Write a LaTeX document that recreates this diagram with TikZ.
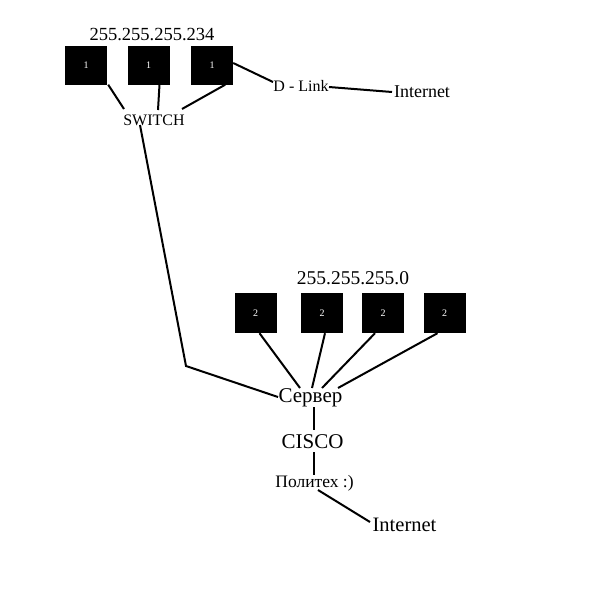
\documentclass[tikz,border=0pt]{standalone}
\usepackage{fontspec}
\setmainfont{Liberation Serif}
\usetikzlibrary{calc}
\tikzset{
  blk/.style={fill=black, minimum width=42pt, minimum height=39pt, inner sep=0pt, text=white, font=\fontsize{10}{12}\selectfont},
  lbl/.style={inner sep=1pt, text=black},
  conn/.style={draw=black, line width=2pt},
}
\begin{document}
\begin{tikzpicture}[x=1pt, y=-1pt]
\useasboundingbox[fill=white] (0,0) rectangle (600,600);
% top group
\node[lbl, font=\fontsize{18.5}{20}\selectfont] (ip1) at (152,35) {255.255.255.234};
\node[blk] (a1) at (86,65) {1};
\node[blk] (a2) at (148.5,65) {1};
\node[blk] (a3) at (212,65) {1};
\node[lbl, font=\fontsize{16}{18}\selectfont] (sw) at (154,120) {SWITCH};
\node[lbl, font=\fontsize{16}{18}\selectfont] (dl) at (301,86) {D - Link};
\node[lbl, font=\fontsize{18}{20}\selectfont] (in1) at (422,92) {Internet};
\draw[conn] ([xshift=1pt]a1.south east) -- (124,109);
\draw[conn] ([xshift=11pt]a2.south) -- (158,110);
\draw[conn] ([xshift=-8pt]a3.south east) -- (182,109);
\draw[conn] ([yshift=2pt]a3.east) -- (273,82);
\draw[conn] (329,87) -- (392,92);
% bottom group
\node[lbl, font=\fontsize{19.5}{22}\selectfont] (ip2) at (353,278) {255.255.255.0};
\node[blk, minimum height=40pt] (b1) at (255.5,313) {2};
\node[blk, minimum height=40pt] (b2) at (322,313) {2};
\node[blk, minimum height=40pt] (b3) at (383,313) {2};
\node[blk, minimum height=40pt] (b4) at (444.5,313) {2};
\node[lbl, font=\fontsize{21}{24}\selectfont] (srv) at (310.5,398) {Сервер};
\node[lbl, font=\fontsize{21}{24}\selectfont] (cisco) at (312.5,442) {CISCO};
\node[lbl, font=\fontsize{17.5}{20}\selectfont] (poly) at (314.5,483) {Политех :)};
\node[lbl, font=\fontsize{20.5}{23}\selectfont] (in2) at (404.5,525) {Internet};
\coordinate (bend) at (186,366);
\draw[conn] (140,125) -- (bend) -- (278,397);
\draw[conn] ([xshift=4pt]b1.south) -- (300,388);
\draw[conn] ([xshift=3pt]b2.south) -- (312,388);
\draw[conn] ([xshift=-8pt]b3.south) -- (322,388);
\draw[conn] ([xshift=-7pt]b4.south) -- (338,388);
\draw[conn] (314,407) -- (314,430);
\draw[conn] (314,452) -- (314,475);
\draw[conn] (318,490) -- (370,522);
\end{tikzpicture}
\end{document}
